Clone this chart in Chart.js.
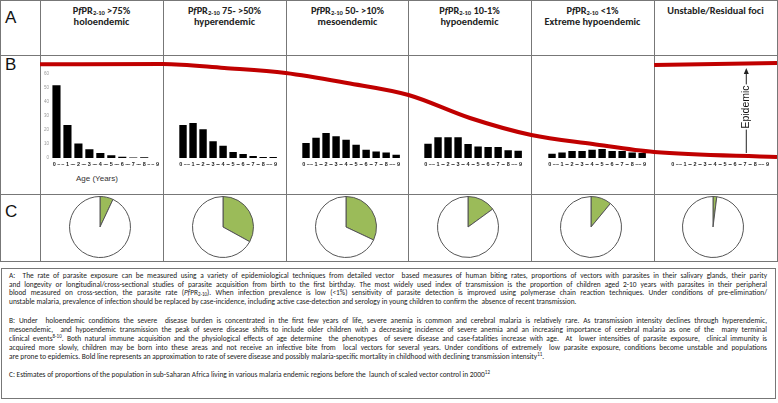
<!DOCTYPE html>
<html>
<head>
<meta charset="utf-8">
<script src="https://cdn.jsdelivr.net/npm/chart.js@4.4.0/dist/chart.umd.min.js"></script>
<style>
body { margin: 0; width: 778px; height: 403px; background: #fff; position: relative; overflow: hidden;
       font-family: "Liberation Sans Narrow", "Carlito", "Lato", sans-serif; color: #222; }
.vl { position: absolute; top: 0; height: 262px; width: 1px; background: #777; }
.hl { position: absolute; left: 0; width: 778px; height: 1px; background: #777; }
.rowlab { position: absolute; left: 5px; font: 17px/17px "Liberation Sans", sans-serif; color: #111; }
.head { position: absolute; top: 5px; width: 123px; text-align: center; font-weight: bold; font-size: 10.3px; line-height: 11px; color: #222; }
.head sub { font-size: 6.5px; vertical-align: -1px; line-height: 0; }
canvas { position: absolute; }
#notes { position: absolute; left: 1px; top: 268px; width: 775px; height: 131px; border: 1px solid #777; box-sizing: border-box; }
.ln { position: absolute; left: 7px; width: 758px; font-size: 7.4px; line-height: 9px; white-space: nowrap; }
.j { text-align: justify; text-align-last: justify; white-space: normal; }
.ln sup { font-size: 5px; vertical-align: 3px; line-height: 0; }
.ln sub { font-size: 5px; vertical-align: -1px; line-height: 0; }
#agelab { position: absolute; left: 76px; top: 174px; font: 8px "Liberation Sans", sans-serif; color: #333; }
</style>
</head>
<body>

<div class="vl" style="left:0"></div>
<div class="vl" style="left:40px"></div>
<div class="vl" style="left:163px"></div>
<div class="vl" style="left:286px"></div>
<div class="vl" style="left:408px"></div>
<div class="vl" style="left:531px"></div>
<div class="vl" style="left:654px"></div>
<div class="vl" style="left:777px"></div>
<div class="hl" style="top:0"></div>
<div class="hl" style="top:55px"></div>
<div class="hl" style="top:194px"></div>
<div class="hl" style="top:261px"></div>

<div class="rowlab" style="top:9px">A</div>
<div class="rowlab" style="top:56px">B</div>
<div class="rowlab" style="top:203px">C</div>

<div class="head" style="left:40px">P<i>f</i>PR<sub>2-10</sub> &gt;75%<br>holoendemic</div>
<div class="head" style="left:163px">P<i>f</i>PR<sub>2-10</sub> 75- &gt;50%<br>hyperendemic</div>
<div class="head" style="left:286px">P<i>f</i>PR<sub>2-10</sub> 50- &gt;10%<br>mesoendemic</div>
<div class="head" style="left:408px">P<i>f</i>PR<sub>2-10</sub> 10-1%<br>hypoendemic</div>
<div class="head" style="left:531px">P<i>f</i>PR<sub>2-10</sub> &lt;1%<br>Extreme hypoendemic</div>
<div class="head" style="left:654px">Unstable/Residual foci</div>

<canvas id="age-1" width="121" height="104" style="left:41px;top:66px"></canvas>
<canvas id="age-2" width="112" height="104" style="left:168px;top:66px"></canvas>
<canvas id="age-3" width="112" height="104" style="left:291px;top:66px"></canvas>
<canvas id="age-4" width="112" height="104" style="left:413px;top:66px"></canvas>
<canvas id="age-5" width="112" height="104" style="left:537px;top:66px"></canvas>
<canvas id="age-6" width="112" height="104" style="left:660px;top:66px"></canvas>
<div id="agelab">Age (Years)</div>

<canvas id="severity" width="737" height="140" style="left:40px;top:55px;z-index:2"></canvas>

<canvas id="pie-1" width="62" height="62" style="left:69px;top:196px"></canvas>
<canvas id="pie-2" width="62" height="62" style="left:192px;top:196px"></canvas>
<canvas id="pie-3" width="62" height="62" style="left:315px;top:196px"></canvas>
<canvas id="pie-4" width="62" height="62" style="left:437px;top:196px"></canvas>
<canvas id="pie-5" width="62" height="62" style="left:560px;top:196px"></canvas>
<canvas id="pie-6" width="62" height="62" style="left:682px;top:196px"></canvas>

<div id="notes">
<div class="ln j" style="top:2px">A:&nbsp; The rate of parasite exposure can be measured using a variety of epidemiological techniques from detailed vector&nbsp; based measures of human biting rates, proportions of vectors with parasites in their salivary glands, their parity</div>
<div class="ln j" style="top:10.5px">and longevity or longitudinal/cross-sectional studies of parasite acquisition from birth to the first birthday. The most widely used index of transmission is the proportion of children aged 2-10 years with parasites in their peripheral</div>
<div class="ln j" style="top:19px">blood measured on cross-section, the parasite rate (<i>Pf</i>PR<sub>2-10</sub>). When infection prevalence is low (&lt;1%) sensitivity of parasite detection is improved using polymerase chain reaction techniques. Under conditions of pre-elimination/</div>
<div class="ln" style="top:27.5px">unstable malaria, prevalence of infection should be replaced by case-incidence, including active case-detection and serology in young children to confirm the&nbsp; absence of recent transmission.</div>
<div class="ln j" style="top:47px">B: Under&nbsp; holoendemic conditions the severe&nbsp; disease burden is concentrated in the first few years of life, severe anemia is common and cerebral malaria is relatively rare. As transmission intensity declines through hyperendemic,</div>
<div class="ln j" style="top:56px">mesoendemic,&nbsp; and hypoendemic transmission the peak of severe disease shifts to include older children with a decreasing incidence of severe anemia and an increasing importance of cerebral malaria as one of the&nbsp; many terminal</div>
<div class="ln j" style="top:65px">clinical events<sup>8-10</sup>. Both natural immune acquisition and the physiological effects of age determine&nbsp; the phenotypes&nbsp; of severe disease and case-fatalities increase with age.&nbsp; At&nbsp; lower intensities of parasite exposure,&nbsp; clinical immunity is</div>
<div class="ln j" style="top:74px">acquired more slowly, children may be born into these areas and not receive an infective bite from&nbsp; local vectors for several years. Under conditions of extremely&nbsp; low parasite exposure, conditions become unstable and populations</div>
<div class="ln" style="top:83px">are prone to epidemics. Bold line represents an approximation to rate of severe disease and possibly malaria-specific mortality in childhood with declining transmission intensity<sup>11</sup>.</div>
<div class="ln" style="top:101px">C: Estimates of proportions of the population in sub-Saharan Africa living in various malaria endemic regions before the&nbsp; launch of scaled vector control in 2000<sup>12</sup></div>
</div>

<script>
// age groups (years) shown under each histogram
var ageLabels = ['0 \u2013', '\u2013 1 \u2013', '\u2013 2 \u2013', '\u2013 3 \u2013', '\u2013 4 \u2013',
                 '\u2013 5 \u2013', '\u2013 6 \u2013', '\u2013 7 \u2013', '\u2013 8 \u2013', '\u2013 9'];

// severe disease by age, one series per transmission class
var holoendemic  = [52, 23.5, 10.4, 6.2, 3.6, 1.9, 0.9, 0.4, 0.6, 0];
var hyperendemic = [23.5, 25, 20.5, 12, 8.8, 4.3, 2.8, 1.4, 0.7, 0.7];
var mesoendemic  = [10.7, 14.5, 17.8, 15.6, 13, 9.5, 5.9, 4.7, 4, 2.4];
var hypoendemic  = [10.2, 14.9, 14.9, 14.9, 10, 8.3, 7.8, 7.8, 5.5, 5.2];
var extremeHypo  = [3.1, 4, 5, 5, 5.9, 6.4, 5, 5, 4, 3.6];
var unstable     = [0, 0, 0, 0, 0, 0, 0, 0, 0, 0];
var ageTicks = [0, 10, 20, 30, 40, 50, 60];

// bold line: approximate severe disease rate across the columns (x in column units)
var curveX = [0, 1, 1.5, 2, 2.5, 3, 3.5, 4, 4.5, 5, 6];
var curveY = [130.7, 131, 127, 122, 112, 100, 77, 60, 51, 43, 38];
var epidemicX = [5, 6];
var epidemicY = [130, 132];
var epidemicArrow = { x: 5.75, from: 42, to: 127, label: 'Epidemic', labelAt: 88 };

// share of population in each class (%)
var popShare = [7, 33, 32, 15, 11, 2];

function displayAgeChart(id, values, showAxis) {
    var ctx = document.getElementById(id).getContext('2d');
    var chart = new Chart(ctx, {
        type: 'bar',
        data: {
            labels: ageLabels,
            datasets: [{
                data: values,
                backgroundColor: '#000',
                barPercentage: 0.74,
                categoryPercentage: 1
            }]
        },
        options: {
            responsive: false,
            animation: false,
            layout: { padding: { top: 8, left: 0, right: 0, bottom: 0 } },
            plugins: { legend: { display: false }, tooltip: { enabled: false } },
            scales: {
                x: {
                    grid: { display: false, drawTicks: false },
                    border: { display: false },
                    ticks: { autoSkip: false, maxRotation: 0, minRotation: 0, padding: 3,
                             font: { size: 5.5, weight: 'bold', family: 'Liberation Sans' }, color: '#222' },
                    afterFit: function(s) { s.height = 12; }
                },
                y: {
                    display: showAxis,
                    min: 0,
                    max: 60,
                    afterBuildTicks: function(s) { s.ticks = ageTicks.map(function(v) { return { value: v }; }); },
                    grid: { display: false, drawTicks: false },
                    border: { display: false },
                    ticks: { padding: 2, font: { size: 4.5, family: 'Liberation Sans' }, color: '#999' },
                    afterFit: function(s) { s.width = 10; }
                }
            }
        }
    });
    return chart;
}

function displaySeverity() {
    var ctx = document.getElementById('severity').getContext('2d');
    var arrowPlugin = {
        id: 'epidemicArrow',
        afterDatasetsDraw: function(chart) {
            var c = chart.ctx;
            var x = chart.scales.x.getPixelForValue(epidemicArrow.x);
            var y1 = chart.scales.y.getPixelForValue(epidemicArrow.from);
            var y2 = chart.scales.y.getPixelForValue(epidemicArrow.to);
            var ym = chart.scales.y.getPixelForValue(epidemicArrow.labelAt);
            c.save();
            c.strokeStyle = '#222';
            c.lineWidth = 1;
            c.beginPath();
            c.moveTo(x, y1);
            c.lineTo(x, y2 + 5);
            c.stroke();
            c.fillStyle = '#222';
            c.beginPath();
            c.moveTo(x, y2);
            c.lineTo(x - 2.5, y2 + 6);
            c.lineTo(x + 2.5, y2 + 6);
            c.closePath();
            c.fill();
            c.translate(x, ym);
            c.rotate(-Math.PI / 2);
            c.font = '10.5px "Liberation Sans", sans-serif';
            var w = c.measureText(epidemicArrow.label).width;
            c.fillStyle = '#fff';
            c.fillRect(-w / 2 - 1, -6, w + 2, 12);
            c.fillStyle = '#111';
            c.textAlign = 'center';
            c.textBaseline = 'middle';
            c.fillText(epidemicArrow.label, 0, 0);
            c.restore();
        }
    };
    var chart = new Chart(ctx, {
        type: 'line',
        data: {
            datasets: [{
                data: curveX.map(function(x, i) { return { x: x, y: curveY[i] }; }),
                borderColor: '#C00000',
                borderWidth: 4,
                pointRadius: 0,
                cubicInterpolationMode: 'monotone',
                fill: false
            }, {
                data: epidemicX.map(function(x, i) { return { x: x, y: epidemicY[i] }; }),
                borderColor: '#C00000',
                borderWidth: 4,
                pointRadius: 0,
                fill: false
            }]
        },
        options: {
            responsive: false,
            animation: false,
            layout: { padding: 0 },
            plugins: { legend: { display: false }, tooltip: { enabled: false } },
            scales: {
                x: { type: 'linear', min: 0, max: 6, display: false },
                y: { min: 0, max: 140, display: false }
            }
        },
        plugins: [arrowPlugin]
    });
}

function displayPie(id, share) {
    var ctx = document.getElementById(id).getContext('2d');
    var chart = new Chart(ctx, {
        type: 'pie',
        data: {
            labels: ['In class', 'Rest'],
            datasets: [{
                data: [share, 100 - share],
                backgroundColor: ['#9BBB59', '#FFFFFF'],
                borderColor: '#555',
                borderWidth: 1
            }]
        },
        options: {
            responsive: false,
            animation: false,
            plugins: { legend: { display: false }, tooltip: { enabled: false } }
        }
    });
}

displayAgeChart('age-1', holoendemic, true);
displayAgeChart('age-2', hyperendemic, false);
displayAgeChart('age-3', mesoendemic, false);
displayAgeChart('age-4', hypoendemic, false);
displayAgeChart('age-5', extremeHypo, false);
displayAgeChart('age-6', unstable, false);
displaySeverity();
popShare.forEach(function(p, i) { displayPie('pie-' + (i + 1), p); });
</script>
</body>
</html>
